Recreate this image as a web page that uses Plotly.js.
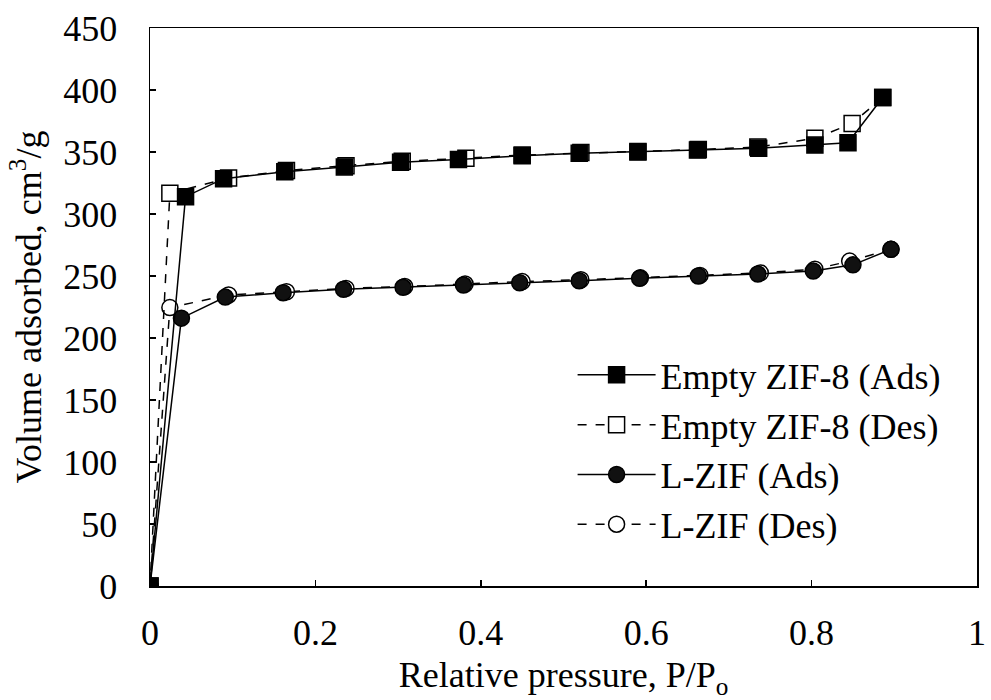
<!DOCTYPE html>
<html>
<head>
<meta charset="utf-8">
<script src="https://cdn.plot.ly/plotly-3.0.1.min.js"></script>
<style>html,body{margin:0;padding:0;background:#fff;}#chart{width:991px;height:700px;}</style>
</head>
<body>
<div id="chart"></div>
<script>
// Empty ZIF-8 adsorption
const zifAdsX = [0, 0.043, 0.089, 0.163, 0.235, 0.303, 0.373, 0.450, 0.519, 0.590, 0.662, 0.736, 0.804, 0.844, 0.886];
const zifAdsY = [0, 314, 328.5, 334, 338, 341.7, 344, 347, 349, 350, 351.6, 353, 355.6, 357.5, 394];
// Empty ZIF-8 desorption
const zifDesX = [0.886, 0.849, 0.804, 0.735, 0.663, 0.590, 0.521, 0.450, 0.382, 0.305, 0.237, 0.165, 0.095, 0.024, 0];
const zifDesY = [394, 373, 361, 354, 352, 350.5, 349.5, 347.5, 345, 342.5, 339, 335, 329, 316.7, 0];
// L-ZIF adsorption
const lzifAdsX = [0, 0.038, 0.091, 0.161, 0.234, 0.306, 0.379, 0.447, 0.519, 0.592, 0.663, 0.735, 0.802, 0.850, 0.896];
const lzifAdsY = [0, 216, 233, 236.5, 239.3, 240.9, 242.7, 244.6, 246.2, 248.1, 250, 251.6, 254, 259, 271.5];
// L-ZIF desorption
const lzifDesX = [0.896, 0.846, 0.804, 0.738, 0.665, 0.593, 0.521, 0.450, 0.381, 0.308, 0.237, 0.165, 0.095, 0.024, 0];
const lzifDesY = [271.5, 262, 255.5, 252.5, 250.5, 248.5, 247, 245.5, 243.5, 241.5, 240, 237.3, 234.7, 224.5, 0];

const names = ["Empty ZIF-8 (Ads)", "Empty ZIF-8 (Des)", "L-ZIF (Ads)", "L-ZIF (Des)"];
const xTicks = [0, 0.2, 0.4, 0.6, 0.8, 1];
const xTickText = ["0", "0.2", "0.4", "0.6", "0.8", "1"];

const FONT = "Liberation Serif";
const FS = 36;

const traces = [
  {x: lzifDesX, y: lzifDesY, name: names[3], mode: "lines+markers", legendgroup: "d", legendrank: 4,
   line: {color: "#000", width: 1.5, dash: "dash"},
   marker: {symbol: "circle", size: 16, color: "#fff", line: {color: "#000", width: 1.5}}},
  {x: lzifAdsX, y: lzifAdsY, name: names[2], mode: "lines+markers", legendgroup: "c", legendrank: 3,
   line: {color: "#000", width: 1.5},
   marker: {symbol: "circle", size: 16, color: "#111", line: {color: "#000", width: 1.5}}},
  {x: zifDesX, y: zifDesY, name: names[1], mode: "lines+markers", legendgroup: "b", legendrank: 2,
   line: {color: "#000", width: 1.5, dash: "dash"},
   marker: {symbol: "square", size: 16, color: "#fff", line: {color: "#000", width: 1.5}}},
  {x: zifAdsX, y: zifAdsY, name: names[0], mode: "lines+markers", legendgroup: "a", legendrank: 1,
   line: {color: "#000", width: 1.5},
   marker: {symbol: "square", size: 16, color: "#000", line: {color: "#000", width: 1.5}}}
];

const layout = {
  width: 991, height: 700,
  margin: {l: 150, r: 14, t: 28, b: 114},
  paper_bgcolor: "#fff", plot_bgcolor: "#fff",
  font: {family: FONT, size: FS, color: "#000"},
  showlegend: true,
  legend: {x: 0.511, y: 0.432, xanchor: "left", yanchor: "top", bgcolor: "rgba(0,0,0,0)",
           font: {family: FONT, size: FS, color: "#000"}, traceorder: "grouped", tracegroupgap: 0,
           itemwidth: 78},
  xaxis: {range: [0, 1], tickvals: xTicks, ticktext: xTickText, showgrid: false, zeroline: false,
          showline: true, linecolor: "#000", linewidth: 1.5, mirror: true,
          ticks: "inside", ticklen: 6, tickcolor: "#000", tickwidth: 1.5, ticklabelstandoff: 14,
          tickfont: {family: FONT, size: FS, color: "#000"},
          title: {text: "Relative pressure, P/P<sub>o</sub>", font: {family: FONT, size: FS, color: "#000"}, standoff: 14}},
  yaxis: {range: [0, 450], dtick: 50, showgrid: false, zeroline: false,
          showline: true, linecolor: "#000", linewidth: 1.5, mirror: true,
          ticks: "inside", ticklen: 6, tickcolor: "#000", tickwidth: 1.5, ticklabelstandoff: 24,
          tickfont: {family: FONT, size: FS, color: "#000"},
          title: {text: "Volume adsorbed, cm<sup>3</sup>/g", font: {family: FONT, size: FS, color: "#000"}, standoff: 10}}
};

Plotly.newPlot("chart", traces, layout, {displayModeBar: false, staticPlot: true});
</script>
</body>
</html>
